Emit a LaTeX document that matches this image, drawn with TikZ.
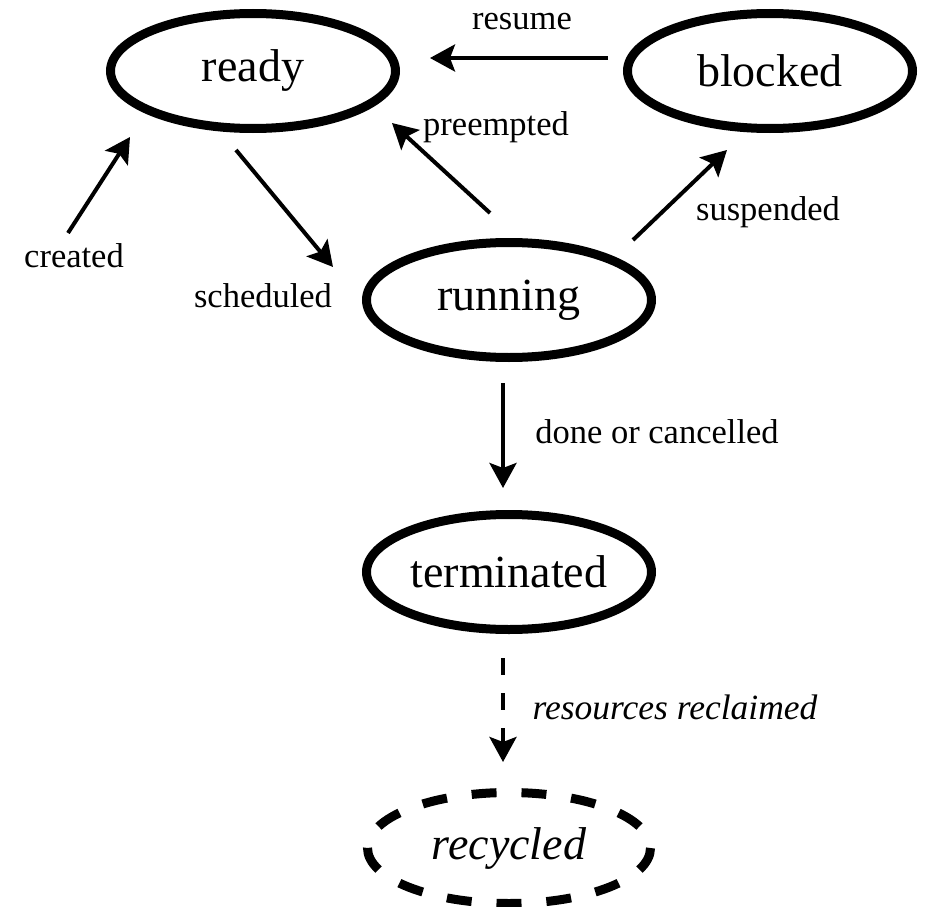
\documentclass[tikz,border=0pt]{standalone}
\usepackage{fontspec}
\setmainfont{Liberation Serif}
\usetikzlibrary{shapes.geometric,arrows.meta}
\tikzset{
  state/.style={ellipse,draw,line width=9pt,inner sep=0pt,minimum width=285pt,minimum height=115pt,
    font=\fontsize{46}{55}\selectfont},
  gone/.style={ellipse,inner sep=0pt,minimum width=283pt,minimum height=111pt,
    font=\fontsize{46}{55}\selectfont\itshape},
  goneline/.style={line width=9pt,dash pattern=on 24.95pt off 24.95pt,dash phase=12.47pt},
  lbl/.style={inner sep=0pt,font=\fontsize{34.5}{40}\selectfont},
  arr/.style={line width=4pt,-{Stealth[length=25pt,width=27pt,inset=5pt]}},
}
\begin{document}
\begin{tikzpicture}[x=1pt,y=1pt]
\useasboundingbox (0,0) rectangle (927,-907);
\node[state] (ready) at (253,-71) {ready};
\node[state] (blocked) at (770,-71) {blocked};
\node[state] (running) at (509,-300) {running};
\node[state] (terminated) at (509,-572) {terminated};
\node[gone] (recycled) at (509,-848) {recycled};
\draw[goneline] ([yshift=-55.5pt]recycled.center) arc[start angle=-90,end angle=270,x radius=141.5,y radius=55.5];
\coordinate (start) at (68,-233);

\draw[arr] (start) -- ([shift={(-123,-66)}]ready.center);
\draw[arr] ([shift={(-17,-79)}]ready.center) -- ([shift={(-176,33)}]running.center);
\draw[arr] ([shift={(-19,87)}]running.center) -- ([shift={(139,-52)}]ready.center);
\draw[arr] ([shift={(124,60)}]running.center) -- ([shift={(-43,-79)}]blocked.center);
\draw[arr] ([shift={(-162,13)}]blocked.center) -- ([shift={(177,13)}]ready.center);
\draw[arr] ([shift={(-6,-83)}]running.center) -- ([shift={(-6,84)}]terminated.center);
\draw[arr,dash pattern=on 17pt off 18pt] ([shift={(-6,-86)}]terminated.center) -- ([shift={(-6,86)}]recycled.center);

\node[lbl] (lresume) at (522,-22) {resume};
\node[lbl] (lpre) at (496,-127) {preempted};
\node[lbl] (lcreated) at (74,-256) {created};
\node[lbl] (lsched) at (263,-296) {scheduled};
\node[lbl] (lsusp) at (768,-212) {suspended};
\node[lbl] (ldone) at (657,-432) {done or cancelled};
\node[lbl,font=\fontsize{35.5}{41}\selectfont\itshape] (lrec) at (675,-707) {resources reclaimed};
\end{tikzpicture}
\end{document}
